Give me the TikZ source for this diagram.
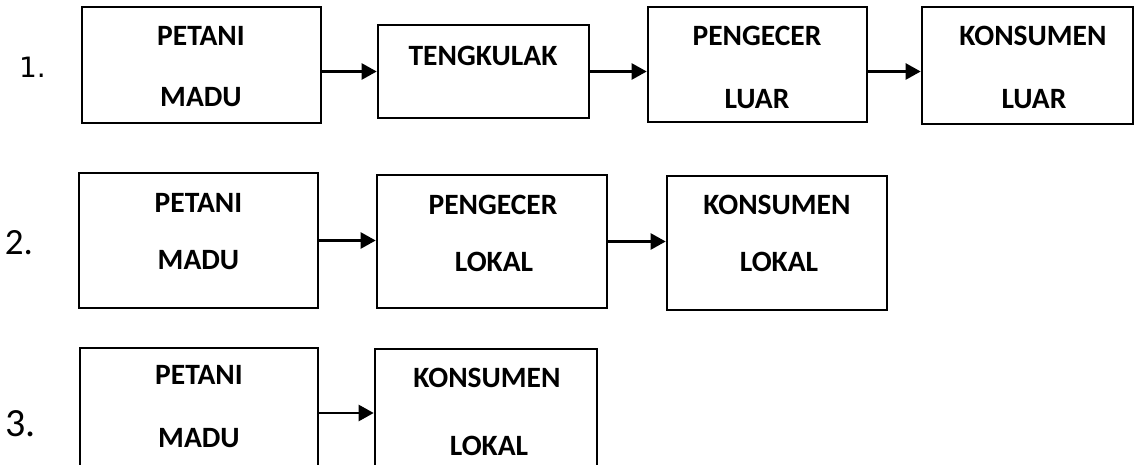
\documentclass[tikz,border=0pt]{standalone}
\usepackage{fontspec}
\setmainfont{Carlito}
\newfontfamily\numfont{DejaVu Sans}
\usetikzlibrary{arrows.meta}
\begin{document}
\begin{tikzpicture}[x=1pt,y=-1pt,
  box/.style={draw,line width=2.6pt,inner sep=0pt,rectangle},
  lbl/.style={font=\bfseries\fontsize{29.5}{31}\selectfont,inner sep=0pt},
  arr/.style={line width=2.4pt,-{Triangle[length=15pt,width=16pt]}},
  num/.style={inner sep=0pt}]
\useasboundingbox (0,0) rectangle (1135,465);
\clip (0,0) rectangle (1135,465);
% row 1
\node[num,font=\numfont\fontsize{28}{30}\selectfont] (n1) at (32.5,67.5) {1.};
\node[box,minimum width=239pt,minimum height=116pt] (r1a) at (201.5,65) {};
\node[box,minimum width=211pt,minimum height=93pt] (r1b) at (483.5,71.5) {};
\node[box,minimum width=219pt,minimum height=115pt] (r1c) at (757.5,64.5) {};
\node[box,minimum width=211pt,minimum height=117pt] (r1d) at (1027.5,65.5) {};
\node[lbl] (t1a1) at (201,36) {PETANI};
\node[lbl] (t1a2) at (201,97) {MADU};
\node[lbl] (t1b) at (483,56) {TENGKULAK};
\node[lbl] (t1c1) at (757,36) {PENGECER};
\node[lbl] (t1c2) at (757,99) {LUAR};
\node[lbl] (t1d1) at (1033,36) {KONSUMEN};
\node[lbl] (t1d2) at (1034,99) {LUAR};
\draw[arr] (r1a.east |- r1b.west) -- (r1b.west);
\draw[arr] (r1b.east) -- (r1b.east -| r1c.west);
\draw[arr] (r1b.east -| r1c.east) -- (r1b.east -| r1d.west);
% row 2
\node[num,font=\fontsize{37}{39}\selectfont] (n2) at (19,242.5) {2.};
\node[box,minimum width=239pt,minimum height=135pt] (r2a) at (198.5,240.5) {};
\node[box,minimum width=230pt,minimum height=133pt] (r2b) at (492,241.5) {};
\node[box,minimum width=220pt,minimum height=134pt] (r2c) at (777,243) {};
\node[lbl] (t2a1) at (198.5,203) {PETANI};
\node[lbl] (t2a2) at (198.5,260) {MADU};
\node[lbl] (t2b1) at (493,205) {PENGECER};
\node[lbl] (t2b2) at (494,262) {LOKAL};
\node[lbl] (t2c1) at (777,205) {KONSUMEN};
\node[lbl] (t2c2) at (779,262) {LOKAL};
\draw[arr] (r2a.east) -- (r2a.east -| r2b.west);
\draw[arr] (r2b.east) -- (r2b.east -| r2c.west);
% row 3
\node[num,font=\fontsize{40}{42}\selectfont] (n3) at (20.5,423.5) {3.};
\node[box,minimum width=238pt,minimum height=130pt] (r3a) at (199,413) {};
\node[box,minimum width=222pt,minimum height=128pt] (r3b) at (486,413) {};
\node[lbl] (t3a1) at (199,375) {PETANI};
\node[lbl] (t3a2) at (199,438) {MADU};
\node[lbl] (t3b1) at (487,378) {KONSUMEN};
\node[lbl] (t3b2) at (489,446) {LOKAL};
\draw[arr] (r3a.east) -- (r3b.west);
\end{tikzpicture}
\end{document}
